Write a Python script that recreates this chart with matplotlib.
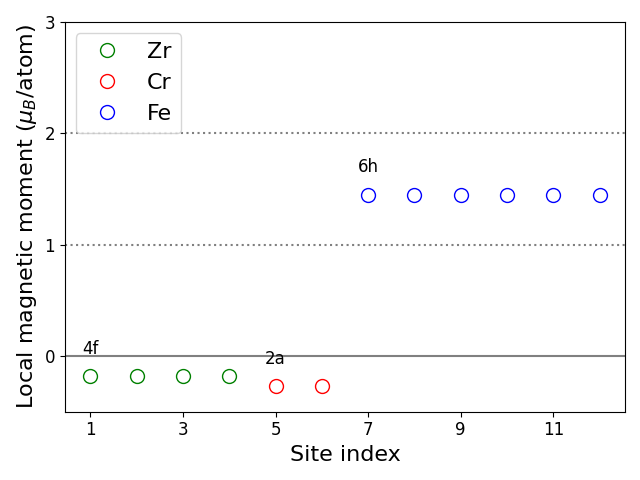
import matplotlib
matplotlib.use("Agg")
import matplotlib.pyplot as plt

zr_sites = [1, 2, 3, 4]
zr_moments = [-0.18, -0.18, -0.18, -0.18]
cr_sites = [5, 6]
cr_moments = [-0.27, -0.27]
fe_sites = [7, 8, 9, 10, 11, 12]
fe_moments = [1.45, 1.45, 1.45, 1.45, 1.45, 1.45]
wyckoff = [("4f", 1, -0.18), ("2a", 5, -0.27), ("6h", 7, 1.45)]

fig, ax = plt.subplots(figsize=(6.4, 4.8), dpi=100)
ax.axhline(0, color="gray", lw=1.5)
ax.axhline(1, color="gray", ls=":", lw=1.5)
ax.axhline(2, color="gray", ls=":", lw=1.5)
ax.plot(zr_sites, zr_moments, "o", mfc="none", mec="green", ms=10, label="Zr")
ax.plot(cr_sites, cr_moments, "o", mfc="none", mec="red", ms=10, label="Cr")
ax.plot(fe_sites, fe_moments, "o", mfc="none", mec="blue", ms=10, label="Fe")
for lab, x, y in wyckoff:
    ax.text(x, y + 0.2, lab, ha="center", va="baseline", fontsize=12)
ax.set_ylim(-0.5, 3)
ax.set_xlim(0.45, 12.55)
ax.set_xticks([1, 3, 5, 7, 9, 11])
ax.set_yticks([0, 1, 2, 3])
ax.tick_params(labelsize=12)
ax.set_xlabel("Site index", fontsize=16)
ax.set_ylabel(r"Local magnetic moment ($\mu_B$/atom)", fontsize=16)
ax.legend(fontsize=16, loc="upper left")
fig.tight_layout()
fig.savefig("out.png")
